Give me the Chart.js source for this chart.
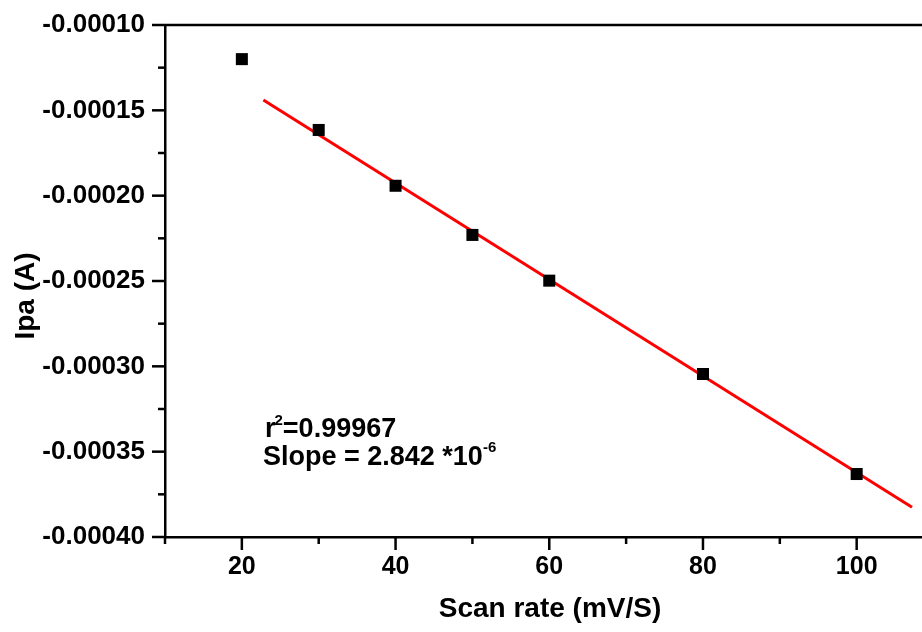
<!DOCTYPE html>
<html>
<head>
<meta charset="utf-8">
<script src="https://cdn.jsdelivr.net/npm/chart.js@4"></script>
<style>
  html, body { margin: 0; padding: 0; background: #ffffff; }
  #wrap { width: 922px; height: 632px; }
</style>
</head>
<body>
<div id="wrap"><canvas id="c" width="922" height="632"></canvas></div>
<script>
// ---- data ----
const scanRates = [20, 30, 40, 50, 60, 80, 100];
const ipaValues = [-0.000120, -0.0001615, -0.0001942, -0.000223, -0.0002498, -0.0003045, -0.0003631];
const fitX = [22.8, 107.2];
const fitY = [-0.000144, -0.0003826];
const xMajorTicks = [20, 40, 60, 80, 100];
const xMinorTicks = [10, 30, 50, 70, 90];
const yMajorTicks = [-0.00040, -0.00035, -0.00030, -0.00025, -0.00020, -0.00015, -0.00010];
const yMinorTicks = [-0.000375, -0.000325, -0.000275, -0.000225, -0.000175, -0.000125];
const xTitle = 'Scan rate (mV/S)';
const yTitle = 'Ipa (A)';
const r2Text = '0.99967';
const slopeText = '2.842 *10';
const slopeExp = '-6';

const FONT = '"Liberation Sans", Arial, Helvetica, sans-serif';

function zeroPad(s) { s.paddingTop = 0; s.paddingBottom = 0; s.paddingLeft = 0; s.paddingRight = 0; }

const decorPlugin = {
  id: 'decor',
  afterDraw(chart) {
    const ctx = chart.ctx;
    const xs = chart.scales.x, ys = chart.scales.y;
    const area = chart.chartArea;
    ctx.save();
    ctx.strokeStyle = '#000';
    ctx.lineWidth = 2.5;
    // top frame line
    ctx.beginPath();
    ctx.moveTo(area.left, area.top);
    ctx.lineTo(chart.width, area.top);
    ctx.stroke();
    // y ticks
    const yl = area.left;
    yMajorTicks.forEach(v => {
      const p = ys.getPixelForValue(v);
      ctx.beginPath(); ctx.moveTo(yl - 13, p); ctx.lineTo(yl, p); ctx.stroke();
    });
    yMinorTicks.forEach(v => {
      const p = ys.getPixelForValue(v);
      ctx.beginPath(); ctx.moveTo(yl - 7, p); ctx.lineTo(yl, p); ctx.stroke();
    });
    // x ticks
    const xb = area.bottom;
    xMajorTicks.forEach(v => {
      const p = xs.getPixelForValue(v);
      ctx.beginPath(); ctx.moveTo(p, xb); ctx.lineTo(p, xb + 13); ctx.stroke();
    });
    xMinorTicks.forEach(v => {
      const p = xs.getPixelForValue(v);
      ctx.beginPath(); ctx.moveTo(p, xb); ctx.lineTo(p, xb + 7); ctx.stroke();
    });

    // axis titles
    ctx.fillStyle = '#000';
    ctx.font = 'bold 28px ' + FONT;
    ctx.textAlign = 'center';
    ctx.textBaseline = 'alphabetic';
    ctx.fillText(xTitle, 550, 617);
    ctx.save();
    ctx.translate(34, 296);
    ctx.rotate(-Math.PI / 2);
    ctx.fillText(yTitle, 0, 0);
    ctx.restore();

    // annotation
    ctx.textAlign = 'left';
    let x = 265;
    ctx.font = 'bold 27px ' + FONT;
    ctx.fillText('r', x, 437);
    x += ctx.measureText('r').width - 1;
    ctx.font = 'bold 15px ' + FONT;
    ctx.fillText('2', x, 425);
    x += ctx.measureText('2').width;
    ctx.font = 'bold 27px ' + FONT;
    ctx.fillText('=' + r2Text, x, 437);

    x = 263;
    const s = 'Slope = ' + slopeText;
    ctx.fillText(s, x, 465);
    x += ctx.measureText(s).width;
    ctx.font = 'bold 15px ' + FONT;
    ctx.fillText(slopeExp, x, 452);
    ctx.restore();
  }
};

new Chart(document.getElementById('c'), {
  data: {
    datasets: [
      {
        type: 'scatter',
        data: scanRates.map((v, i) => ({ x: v, y: ipaValues[i] })),
        pointStyle: 'rect',
        pointRadius: 8.5,
        pointBackgroundColor: '#000',
        pointBorderColor: '#000',
        pointBorderWidth: 0,
        order: 1
      },
      {
        type: 'line',
        data: fitX.map((v, i) => ({ x: v, y: fitY[i] })),
        borderColor: '#ff0000',
        borderWidth: 3,
        pointRadius: 0,
        fill: false,
        order: 2
      }
    ]
  },
  options: {
    responsive: false,
    animation: false,
    devicePixelRatio: 1,
    layout: { autoPadding: false, padding: { top: 25, left: 0, right: 0, bottom: 0 } },
    plugins: { legend: { display: false }, tooltip: { enabled: false } },
    scales: {
      x: {
        type: 'linear',
        min: 10,
        max: 108.5,
        afterFit(s) { s.height = 95; zeroPad(s); },
        afterBuildTicks(s) { s.ticks = xMajorTicks.map(v => ({ value: v })); },
        grid: { display: true, drawOnChartArea: false, drawTicks: false },
        border: { display: true, color: '#000', width: 2.5 },
        ticks: {
          color: '#000',
          padding: 15,
          font: { family: FONT, size: 25, weight: 'bold' },
          callback: v => String(v)
        }
      },
      y: {
        type: 'linear',
        min: -0.0004,
        max: -0.0001,
        afterFit(s) { s.width = 165; zeroPad(s); },
        afterBuildTicks(s) { s.ticks = yMajorTicks.map(v => ({ value: v })); },
        grid: { display: true, drawOnChartArea: false, drawTicks: false },
        border: { display: true, color: '#000', width: 2.5 },
        ticks: {
          color: '#000',
          padding: 20,
          font: { family: FONT, size: 26, weight: 'bold' },
          callback: v => Number(v).toFixed(5)
        }
      }
    }
  },
  plugins: [decorPlugin]
});
</script>
</body>
</html>
